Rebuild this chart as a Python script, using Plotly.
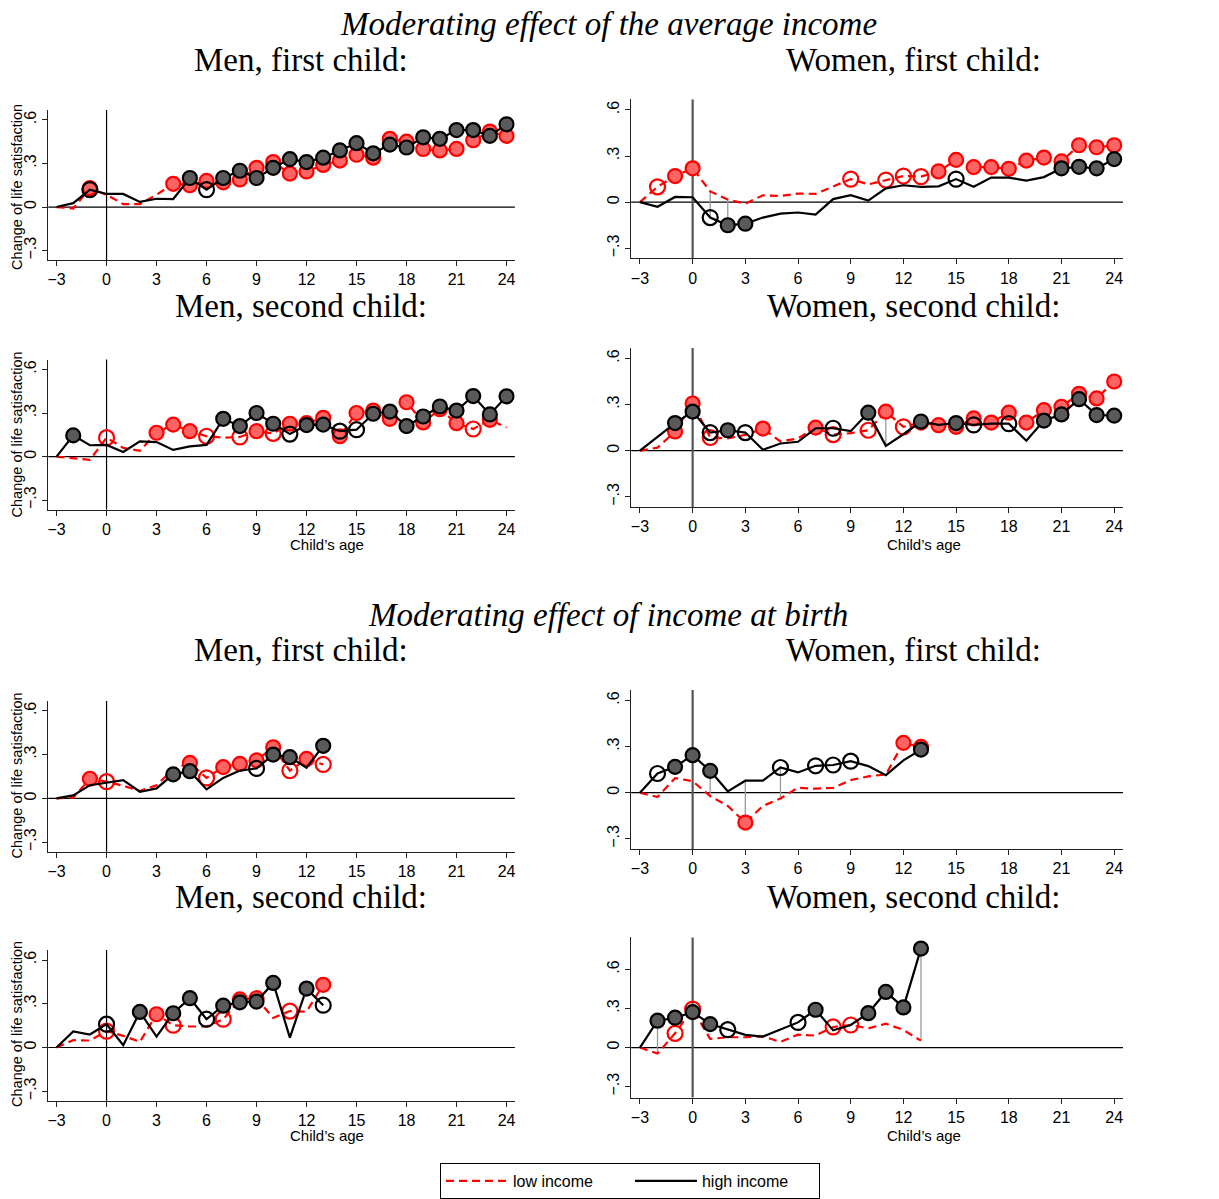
import plotly.graph_objects as go

# ---------------- data ----------------
AGES_AVG = list(range(-3, 25))
AGES_BIRTH = list(range(-3, 14))
X_TICKS = list(range(-3, 25, 3))
X_TICK_LABELS = ["\u22123", "0", "3", "6", "9", "12", "15", "18", "21", "24"]
Y_TICKS = [-0.3, 0, 0.3, 0.6]
Y_TICK_LABELS = ["\u2212.3", "0", ".3", ".6"]

SECTION_TITLES = ["Moderating effect of the average income", "Moderating effect of income at birth"]
PANEL_TITLES = ["Men, first child:", "Women, first child:", "Men, second child:", "Women, second child:"]
SERIES_NAMES = ["low income", "high income"]
Y_TITLE = "Change of life satisfaction"
X_TITLE = "Child\u2019s age"

# significance codes: 0 = none, 1 = hollow circle, 2 = filled circle
# --- average income, men, first child
avg_m1_low = [0, -0.01, 0.13, 0.085, 0.02, 0.02, 0.085, 0.16, 0.15, 0.18, 0.17, 0.19, 0.27, 0.31,
              0.23, 0.245, 0.29, 0.32, 0.36, 0.34, 0.47, 0.45, 0.40, 0.39, 0.40, 0.46, 0.52, 0.49]
avg_m1_low_sig = [0, 0, 2, 0, 0, 0, 0, 2, 2, 2, 2, 2, 2, 2, 2, 2, 2, 2, 2, 2, 2, 2, 2, 2, 2, 2, 2, 2]
avg_m1_high = [0, 0.027, 0.12, 0.09, 0.09, 0.035, 0.057, 0.055, 0.20, 0.12, 0.20, 0.25, 0.20, 0.27,
               0.33, 0.31, 0.34, 0.39, 0.44, 0.37, 0.43, 0.41, 0.48, 0.47, 0.53, 0.53, 0.49, 0.57]
avg_m1_high_sig = [0, 0, 1, 0, 0, 0, 0, 0, 2, 1, 2, 2, 2, 2, 2, 2, 2, 2, 2, 2, 2, 2, 2, 2, 2, 2, 2, 2]
avg_m1_links = []

# --- average income, women, first child
avg_w1_low = [0, 0.10, 0.17, 0.22, 0.07, 0.017, -0.01, 0.045, 0.04, 0.056, 0.054, 0.10, 0.15, 0.116,
              0.144, 0.17, 0.166, 0.20, 0.275, 0.228, 0.228, 0.217, 0.27, 0.29, 0.265, 0.37, 0.357, 0.37]
avg_w1_low_sig = [0, 1, 2, 2, 0, 0, 0, 0, 0, 0, 0, 0, 1, 0, 1, 1, 1, 2, 2, 2, 2, 2, 2, 2, 2, 2, 2, 2]
avg_w1_high = [0, -0.03, 0.034, 0.032, -0.10, -0.15, -0.14, -0.10, -0.075, -0.067, -0.08, 0.02, 0.045, 0.01,
               0.09, 0.11, 0.10, 0.103, 0.15, 0.10, 0.16, 0.16, 0.14, 0.163, 0.22, 0.23, 0.22, 0.28]
avg_w1_high_sig = [0, 0, 0, 0, 1, 2, 2, 0, 0, 0, 0, 0, 0, 0, 0, 0, 0, 0, 1, 0, 0, 0, 0, 0, 2, 2, 2, 2]
avg_w1_links = [1, 2]

# --- average income, men, second child
avg_m2_low = [0, -0.01, -0.023, 0.13, 0.06, 0.04, 0.164, 0.22, 0.175, 0.14, 0.13, 0.135, 0.175, 0.16,
              0.226, 0.23, 0.267, 0.14, 0.30, 0.317, 0.26, 0.374, 0.235, 0.326, 0.23, 0.19, 0.253, 0.20]
avg_m2_low_sig = [0, 0, 0, 1, 0, 0, 2, 2, 2, 1, 0, 1, 2, 1, 2, 2, 2, 2, 2, 2, 2, 2, 2, 2, 2, 1, 2, 0]
avg_m2_high = [0, 0.146, 0.078, 0.08, 0.032, 0.105, 0.10, 0.046, 0.07, 0.08, 0.26, 0.21, 0.30, 0.226,
               0.155, 0.217, 0.22, 0.175, 0.185, 0.295, 0.31, 0.21, 0.276, 0.345, 0.317, 0.417, 0.29, 0.415]
avg_m2_high_sig = [0, 2, 0, 0, 0, 0, 0, 0, 0, 0, 2, 2, 2, 2, 1, 2, 2, 1, 1, 2, 2, 2, 2, 2, 2, 2, 2, 2]
avg_m2_links = []

# --- average income, women, second child
avg_w2_low = [0, 0.02, 0.125, 0.307, 0.086, 0.08, 0.103, 0.144, 0.06, 0.08, 0.15, 0.105, 0.114, 0.133,
              0.254, 0.155, 0.183, 0.166, 0.155, 0.21, 0.183, 0.247, 0.183, 0.264, 0.286, 0.37, 0.34, 0.45]
avg_w2_low_sig = [0, 0, 2, 2, 1, 0, 0, 2, 0, 0, 2, 1, 0, 1, 2, 1, 2, 2, 2, 2, 2, 2, 2, 2, 2, 2, 2, 2]
avg_w2_high = [0, 0.09, 0.18, 0.254, 0.118, 0.133, 0.118, 0.006, 0.047, 0.058, 0.146, 0.146, 0.127, 0.247,
               0.032, 0.107, 0.19, 0.168, 0.18, 0.168, 0.176, 0.176, 0.065, 0.196, 0.236, 0.335, 0.232, 0.228]
avg_w2_high_sig = [0, 0, 2, 2, 1, 2, 1, 0, 0, 0, 0, 1, 0, 2, 0, 0, 2, 0, 2, 1, 0, 1, 0, 2, 2, 2, 2, 2]
avg_w2_links = [11]

# --- income at birth, men, first child
birth_m1_low = [0, 0.005, 0.134, 0.114, 0.086, 0.05, 0.09, 0.20, 0.243, 0.14, 0.214, 0.236, 0.26, 0.35,
                0.19, 0.27, 0.232]
birth_m1_low_sig = [0, 0, 2, 1, 0, 0, 0, 0, 2, 1, 2, 2, 2, 2, 1, 2, 1]
birth_m1_high = [0, 0.02, 0.09, 0.107, 0.125, 0.045, 0.068, 0.164, 0.186, 0.061, 0.14, 0.19, 0.205, 0.30,
                 0.282, 0.21, 0.36]
birth_m1_high_sig = [0, 0, 0, 0, 0, 0, 0, 2, 2, 0, 0, 0, 1, 2, 2, 0, 2]
birth_m1_links = []

# --- income at birth, women, first child
birth_w1_low = [0, -0.028, 0.095, 0.075, -0.022, -0.086, -0.194, -0.086, -0.037, 0.032, 0.026, 0.032,
                0.082, 0.106, 0.119, 0.324, 0.298]
birth_w1_low_sig = [0, 0, 0, 0, 0, 0, 2, 0, 0, 0, 0, 0, 0, 0, 0, 2, 2]
birth_w1_high = [0, 0.125, 0.168, 0.244, 0.142, 0.009, 0.078, 0.078, 0.164, 0.132, 0.175, 0.18, 0.205,
                 0.173, 0.114, 0.21, 0.28]
birth_w1_high_sig = [0, 1, 2, 2, 2, 0, 0, 0, 1, 0, 1, 1, 1, 0, 0, 0, 2]
birth_w1_links = [1, 3, 5]

# --- income at birth, men, second child
birth_m2_low = [0, 0.05, 0.048, 0.112, 0.08, 0.039, 0.228, 0.153, 0.144, 0.144, 0.194, 0.33, 0.338,
                0.203, 0.25, 0.246, 0.43]
birth_m2_low_sig = [0, 0, 0, 1, 0, 0, 2, 1, 0, 0, 1, 2, 2, 0, 1, 0, 2]
birth_m2_high = [0, 0.11, 0.089, 0.16, 0.016, 0.244, 0.075, 0.235, 0.338, 0.194, 0.287, 0.31, 0.315,
                 0.443, 0.068, 0.404, 0.29]
birth_m2_high_sig = [0, 0, 0, 1, 0, 2, 0, 2, 2, 1, 2, 2, 2, 2, 0, 2, 1]
birth_m2_links = []

# --- income at birth, women, second child
birth_w2_low = [0, -0.046, 0.109, 0.295, 0.066, 0.079, 0.079, 0.086, 0.043, 0.099, 0.092, 0.158, 0.173,
                0.147, 0.183, 0.135, 0.053]
birth_w2_low_sig = [0, 0, 1, 1, 0, 0, 0, 0, 0, 0, 0, 1, 1, 0, 0, 0, 0]
birth_w2_high = [0, 0.206, 0.229, 0.272, 0.18, 0.137, 0.097, 0.084, 0.137, 0.193, 0.29, 0.132, 0.173,
                 0.264, 0.427, 0.308, 0.76]
birth_w2_high_sig = [0, 2, 2, 2, 2, 1, 0, 0, 0, 1, 2, 0, 0, 2, 2, 2, 2]
birth_w2_links = [-2, 13]

# ---------------- layout / style ----------------
W, H = 1219, 1199
LEFT_X = (47.3, 514.7)
RIGHT_X = (631.2, 1123.8)
YR = (-0.366, 0.668)
YR_TALL = (-0.384, 0.845)

panels = [
    dict(ages=AGES_AVG, low=avg_m1_low, ls=avg_m1_low_sig, high=avg_m1_high, hs=avg_m1_high_sig,
         links=avg_m1_links, px=LEFT_X, py=(110.7, 261.7), yr=YR, right=False),
    dict(ages=AGES_AVG, low=avg_w1_low, ls=avg_w1_low_sig, high=avg_w1_high, hs=avg_w1_high_sig,
         links=avg_w1_links, px=RIGHT_X, py=(100, 260), yr=YR, right=True),
    dict(ages=AGES_AVG, low=avg_m2_low, ls=avg_m2_low_sig, high=avg_m2_high, hs=avg_m2_high_sig,
         links=avg_m2_links, px=LEFT_X, py=(361.7, 512.7), yr=YR, right=False),
    dict(ages=AGES_AVG, low=avg_w2_low, ls=avg_w2_low_sig, high=avg_w2_high, hs=avg_w2_high_sig,
         links=avg_w2_links, px=RIGHT_X, py=(350, 510), yr=YR, right=True),
    dict(ages=AGES_BIRTH, low=birth_m1_low, ls=birth_m1_low_sig, high=birth_m1_high, hs=birth_m1_high_sig,
         links=birth_m1_links, px=LEFT_X, py=(705, 856.7), yr=YR, right=False),
    dict(ages=AGES_BIRTH, low=birth_w1_low, ls=birth_w1_low_sig, high=birth_w1_high, hs=birth_w1_high_sig,
         links=birth_w1_links, px=RIGHT_X, py=(694, 854), yr=YR, right=True),
    dict(ages=AGES_BIRTH, low=birth_m2_low, ls=birth_m2_low_sig, high=birth_m2_high, hs=birth_m2_high_sig,
         links=birth_m2_links, px=LEFT_X, py=(955.7, 1107.3), yr=YR, right=False),
    dict(ages=AGES_BIRTH, low=birth_w2_low, ls=birth_w2_low_sig, high=birth_w2_high, hs=birth_w2_high_sig,
         links=birth_w2_links, px=RIGHT_X, py=(943, 1104), yr=YR_TALL, right=True),
]

RED = "#FF0000"
RED_FILL = "#FF6464"
BLACK = "#000000"
GREY_FILL = "#5A5A5A"
SANS = "Liberation Sans, Arial, sans-serif"
SERIF = "Liberation Serif, Times New Roman, serif"
MS = 14
TITLE_SIZE = 33

fig = go.Figure()
layout = dict(width=W, height=H, margin=dict(l=0, r=0, t=0, b=0), autosize=False,
              paper_bgcolor="white", plot_bgcolor="white", shapes=[], annotations=[])


def fx(p):
    return p / W


def fy(p):
    return 1 - p / H


for i, p in enumerate(panels, start=1):
    xa = "x" if i == 1 else f"x{i}"
    ya = "y" if i == 1 else f"y{i}"
    ages = p["ages"]

    layout["xaxis" if i == 1 else f"xaxis{i}"] = dict(
        domain=[fx(p["px"][0]), fx(p["px"][1])], anchor=ya, range=[-3.5, 24.5],
        tickmode="array", tickvals=X_TICKS, ticktext=X_TICK_LABELS,
        showline=True, linecolor="#222", linewidth=1, ticks="outside", ticklen=5, tickcolor="#222",
        showgrid=False, zeroline=False, tickfont=dict(family=SANS, size=16, color="black"))
    layout["yaxis" if i == 1 else f"yaxis{i}"] = dict(
        domain=[fy(p["py"][1]), fy(p["py"][0])], anchor=xa, range=list(p["yr"]),
        tickmode="array", tickvals=Y_TICKS, ticktext=Y_TICK_LABELS, tickangle=-90,
        showline=True, linecolor="#222", linewidth=1, ticks="outside", ticklen=5, tickcolor="#222",
        showgrid=False, zeroline=False, tickfont=dict(family=SANS, size=16, color="black"))

    # reference lines at y=0 and x=0
    layout["shapes"].append(dict(type="line", xref=f"{xa} domain", yref=ya, x0=0, x1=1, y0=0, y1=0,
                                 line=dict(color="black", width=1.2), layer="below"))
    layout["shapes"].append(dict(type="line", xref=xa, yref=f"{ya} domain", x0=0, x1=0, y0=0, y1=1,
                                 line=dict(color="#555" if p["right"] else "black",
                                           width=2.2 if p["right"] else 1.2), layer="below"))

    # grey connectors (significant difference)
    if p["links"]:
        lx, ly = [], []
        for a in p["links"]:
            k = ages.index(a)
            lx += [a, a, None]
            ly += [p["low"][k], p["high"][k], None]
        fig.add_trace(go.Scatter(x=lx, y=ly, mode="lines", line=dict(color="#9a9a9a", width=1.3),
                                 xaxis=xa, yaxis=ya, showlegend=False, hoverinfo="skip"))

    for vals, sig, color, fill, dash, name in [
        (p["low"], p["ls"], RED, RED_FILL, "8px,5px", SERIES_NAMES[0]),
        (p["high"], p["hs"], BLACK, GREY_FILL, "solid", SERIES_NAMES[1]),
    ]:
        fig.add_trace(go.Scatter(x=ages, y=vals, mode="lines", name=name,
                                 line=dict(color=color, width=2.2, dash=dash),
                                 xaxis=xa, yaxis=ya, showlegend=(i == 1)))
        fx_, fy_ = [a for a, s in zip(ages, sig) if s == 2], [v for v, s in zip(vals, sig) if s == 2]
        hx_, hy_ = [a for a, s in zip(ages, sig) if s == 1], [v for v, s in zip(vals, sig) if s == 1]
        fig.add_trace(go.Scatter(x=fx_, y=fy_, mode="markers",
                                 marker=dict(symbol="circle", size=MS, color=fill,
                                             line=dict(color=color, width=2.2)),
                                 xaxis=xa, yaxis=ya, showlegend=False))
        fig.add_trace(go.Scatter(x=hx_, y=hy_, mode="markers",
                                 marker=dict(symbol="circle-open", size=MS + 1, color=color,
                                             line=dict(width=2.2)),
                                 xaxis=xa, yaxis=ya, showlegend=False))

# titles
def ann(text, x, y, size, family, italic=False, angle=0):
    layout["annotations"].append(dict(
        text=f"<i>{text}</i>" if italic else text, x=fx(x), y=fy(y), xref="paper", yref="paper",
        showarrow=False, xanchor="center", yanchor="middle", textangle=angle,
        font=dict(family=family, size=size, color="black")))


ann(SECTION_TITLES[0], 608, 24, TITLE_SIZE, SERIF, italic=True)
ann(SECTION_TITLES[1], 608, 619, TITLE_SIZE, SERIF, italic=True)
for base in (0, 594):
    ann(PANEL_TITLES[0], 300, 60 + base, TITLE_SIZE, SERIF)
    ann(PANEL_TITLES[1], 914, 60 + base, TITLE_SIZE, SERIF)
    ann(PANEL_TITLES[2], 300, 308 + base, TITLE_SIZE, SERIF)
    ann(PANEL_TITLES[3], 914, 308 + base, TITLE_SIZE, SERIF)
for yc in (188, 437, 780, 1030):
    ann(Y_TITLE, 16, yc, 14.5, SANS, angle=-90)
for xc, yc in ((327, 548), (925, 548), (327, 1142), (925, 1142)):
    ann(X_TITLE, xc, yc, 15, SANS)

layout["legend"] = dict(orientation="h", x=fx(630), xanchor="center", y=fy(1170), yanchor="top",
                        bordercolor="black", borderwidth=1, bgcolor="white",
                        font=dict(family=SANS, size=16, color="black"), itemwidth=62,
                        entrywidth=112, entrywidthmode="pixels", traceorder="normal")

fig.update_layout(**layout)
fig.write_html("out.html")
